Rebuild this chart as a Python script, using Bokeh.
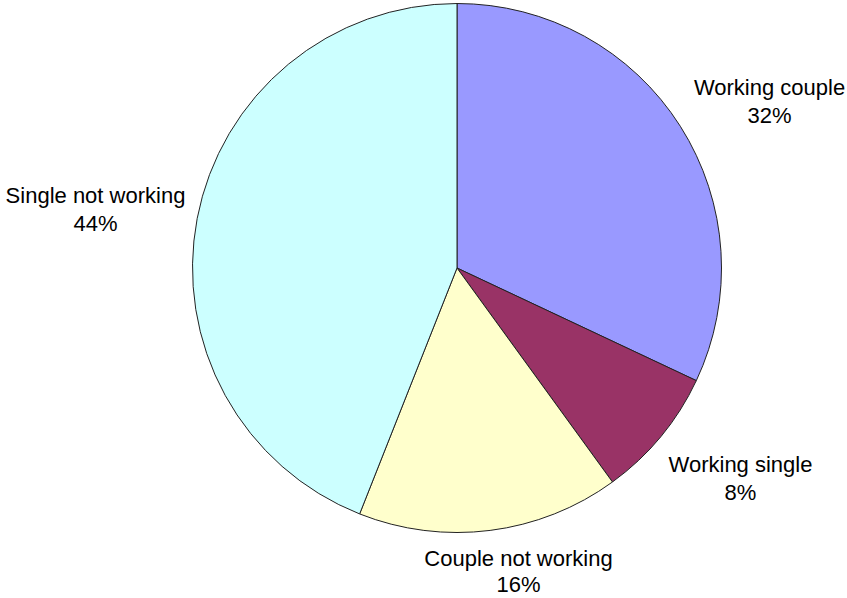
import math
from bokeh.plotting import figure
from bokeh.models import Range1d, ColumnDataSource
from bokeh.core.properties import value
from bokeh.embed import file_html
from bokeh.resources import INLINE

categories = ["Working couple", "Working single", "Couple not working", "Single not working"]
shares = [32, 8, 16, 44]
colors = ["#9999FF", "#993366", "#FFFFCC", "#CCFFFF"]
pct_labels = ["32%", "8%", "16%", "44%"]

W, H = 847, 598
cx, cy_img, R = 456.5, 267.5, 264.5
cy = H - cy_img

total = sum(shares)
starts, ends = [], []
acc = 0
for s in shares:
    starts.append(math.pi / 2 - 2 * math.pi * acc / total)
    acc += s
    ends.append(math.pi / 2 - 2 * math.pi * acc / total)

p = figure(width=W, height=H, x_range=Range1d(0, W), y_range=Range1d(0, H),
           output_backend="svg", toolbar_location=None, min_border=0)
p.axis.visible = False
p.grid.visible = False
p.outline_line_color = None
p.background_fill_color = "white"

src = ColumnDataSource(dict(x=[cx] * 4, y=[cy] * 4, start=starts, end=ends, color=colors))
p.wedge(x="x", y="y", radius=R, start_angle="start", end_angle="end", direction="clock",
        fill_color="color", line_color="#222222", line_width=1, source=src)

# label centers (image coords): name line and percent line
name_pos = [(769, 87), (740, 464), (518, 558), (95, 195)]
pct_pos = [(769, 115), (740, 492), (518, 584), (95, 223)]

p.text(x=[a for a, b in name_pos], y=[H - b for a, b in name_pos], text=categories,
       text_align="center", text_baseline="middle",
       text_font=value("Liberation Sans"), text_font_size="22px", text_color="black")
p.text(x=[a for a, b in pct_pos], y=[H - b for a, b in pct_pos], text=pct_labels,
       text_align="center", text_baseline="middle",
       text_font=value("Liberation Sans"), text_font_size="22px", text_color="black")

open("out.html", "w").write(file_html(p, INLINE))
